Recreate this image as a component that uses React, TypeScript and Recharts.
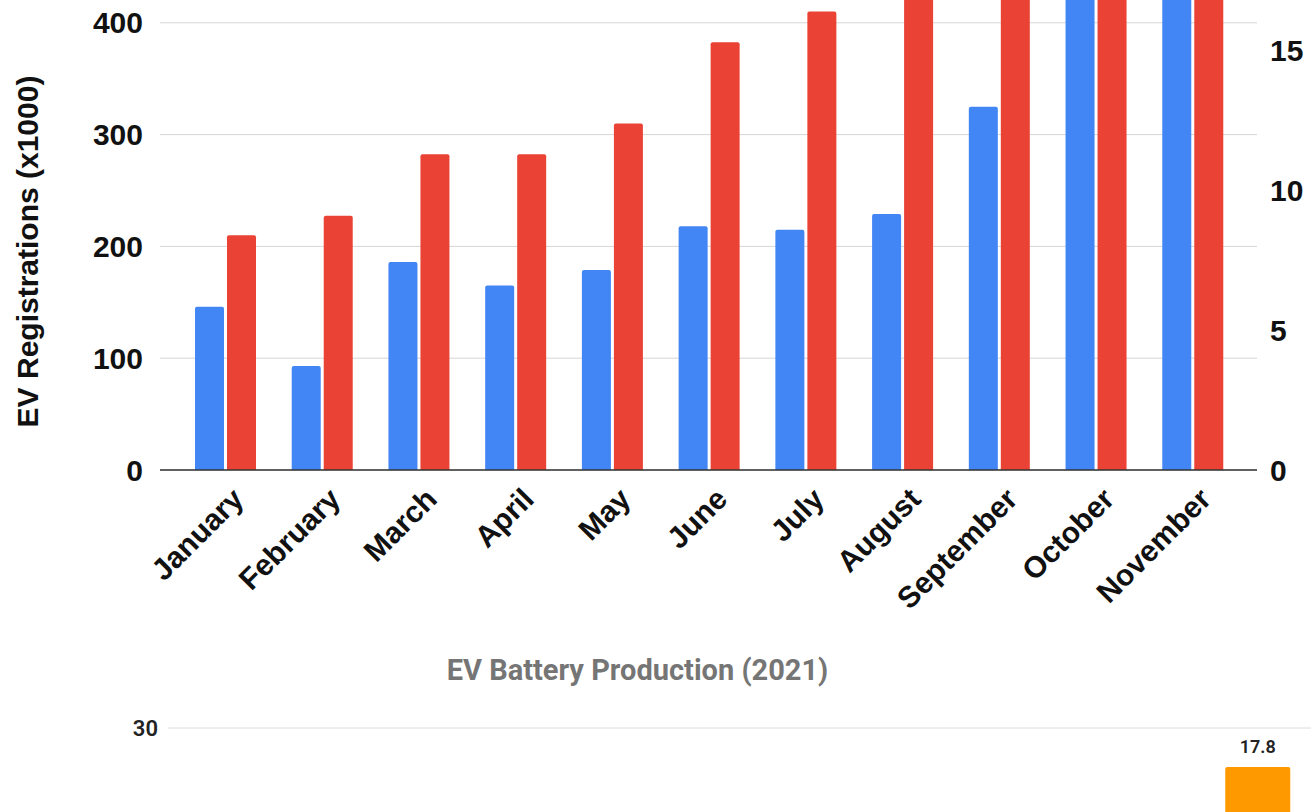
import { Bar, BarChart, CartesianGrid, LabelList, XAxis, YAxis } from "recharts";

const months = [
  "January",
  "February",
  "March",
  "April",
  "May",
  "June",
  "July",
  "August",
  "September",
  "October",
  "November",
];
// left axis, thousands of registrations (Oct/Nov run past the top of the crop)
const registrations = [146, 93, 186, 165, 179, 218, 215, 229, 325, 440, 470];
// right axis series (Aug-Nov run past the top of the crop)
const rightSeries = [8.4, 9.1, 11.3, 11.3, 12.4, 15.3, 16.4, 17.5, 18.4, 19.1, 19.6];
const leftTicks = [0, 100, 200, 300, 400];
const rightTicks = [0, 5, 10, 15];

const productionMonths = [
  "January",
  "February",
  "March",
  "April",
  "May",
  "June",
  "July",
  "August",
  "September",
  "October",
  "November",
  "December",
];
const production = [null, null, null, null, null, null, null, null, null, null, null, 17.8];
// only the top tick of this chart is inside the crop
const productionTicks = [30];

const registrationData = months.map((m, i) => ({
  month: m,
  registrations: registrations[i],
  right: rightSeries[i],
}));
const productionData = productionMonths.map((m, i) => ({
  month: m,
  production: production[i],
}));

const ARIAL = "Arial, 'Liberation Sans', sans-serif";
const ROBOTO = "Roboto, 'Noto Sans', sans-serif";

function MonthTick(props: any) {
  const { x, y, payload } = props;
  return (
    <g transform={`translate(${x + 20},${y + 31})`}>
      <text
        textAnchor="end"
        transform="rotate(-45)"
        fontSize={30}
        fontWeight="bold"
        fontFamily={ARIAL}
        fill="#111"
      >
        {payload.value}
      </text>
    </g>
  );
}

function AxisTitle(props: any) {
  const vb = props.viewBox;
  const cx = vb.x + 38;
  const cy = vb.y + vb.height / 2 + 61;
  return (
    <text
      x={cx}
      y={cy}
      transform={`rotate(-90, ${cx}, ${cy})`}
      textAnchor="middle"
      fontSize={30}
      fontWeight="bold"
      fontFamily={ARIAL}
      fill="#111"
    >
      EV Registrations (x1000)
    </text>
  );
}

function ProductionTick(props: any) {
  const { x, y, payload } = props;
  return (
    <text
      x={x}
      y={y}
      dy={8}
      textAnchor="end"
      fill="#222"
      fontSize={22}
      fontWeight={600}
      fontFamily={ROBOTO}
    >
      {payload.value}
    </text>
  );
}

export default function App() {
  const tickStyle = { fill: "#111", fontSize: 30, fontWeight: "bold", fontFamily: ARIAL };
  return (
    <div
      style={{
        position: "absolute",
        top: 0,
        left: 0,
        width: 1311,
        height: 812,
        overflow: "hidden",
        background: "#fff",
      }}
    >
      <div style={{ position: "absolute", top: -140, left: 0 }}>
        <BarChart
          width={1311}
          height={760}
          data={registrationData}
          margin={{ top: 51, right: 0, bottom: 0, left: 0 }}
          barSize={29}
          barGap={3}
        >
          <CartesianGrid vertical={false} stroke="#d6d6d6" yAxisId="left" />
          <XAxis
            dataKey="month"
            interval={0}
            height={150}
            padding={{ left: 17, right: 16 }}
            tickLine={false}
            tickSize={0}
            tickMargin={0}
            axisLine={{ stroke: "#333", strokeWidth: 1.5 }}
            tick={<MonthTick />}
          />
          <YAxis
            yAxisId="left"
            width={160}
            domain={[0, 500]}
            ticks={leftTicks}
            interval={0}
            axisLine={false}
            tickLine={false}
            tickSize={0}
            tickMargin={17}
            tick={tickStyle}
            label={{ content: <AxisTitle /> }}
          />
          <YAxis
            yAxisId="right"
            orientation="right"
            width={54}
            domain={[0, 20]}
            ticks={rightTicks}
            interval={0}
            axisLine={false}
            tickLine={false}
            tickSize={0}
            tickMargin={13}
            tick={tickStyle}
          />
          <Bar
            yAxisId="left"
            dataKey="registrations"
            fill="#4285f4"
            radius={[2, 2, 0, 0]}
            isAnimationActive={false}
          />
          <Bar
            yAxisId="right"
            dataKey="right"
            fill="#ea4335"
            radius={[2, 2, 0, 0]}
            isAnimationActive={false}
          />
        </BarChart>
      </div>

      <div
        style={{
          position: "absolute",
          top: 652,
          left: 0,
          width: 1275,
          height: 36,
          lineHeight: "36px",
          textAlign: "center",
          fontFamily: ROBOTO,
          fontWeight: "bold",
          fontSize: 29,
          color: "#757575",
        }}
      >
        EV Battery Production (2021)
      </div>

      <div style={{ position: "absolute", top: 700, left: 0 }}>
        <BarChart
          width={1330}
          height={383}
          data={productionData}
          margin={{ top: 28, right: 0, bottom: 0, left: 0 }}
          barSize={65}
        >
          <CartesianGrid vertical={false} stroke="#dcdcdc" yAxisId="left" />
          <XAxis dataKey="month" hide padding={{ left: 0, right: 25 }} />
          <YAxis
            yAxisId="left"
            type="number"
            dataKey="production"
            width={168}
            domain={[0, 30]}
            allowDataOverflow
            ticks={productionTicks}
            interval={0}
            axisLine={false}
            tickLine={false}
            tickSize={0}
            tickMargin={10}
            tick={<ProductionTick />}
          />
          <YAxis yAxisId="right" hide domain={[0, 20]} />
          <Bar
            yAxisId="right"
            dataKey="production"
            fill="#ff9900"
            radius={[2, 2, 0, 0]}
            isAnimationActive={false}
          >
            <LabelList
              dataKey="production"
              position="top"
              offset={14}
              fill="#222"
              fontSize={18}
              fontWeight={600}
              fontFamily={ROBOTO}
            />
          </Bar>
        </BarChart>
      </div>
    </div>
  );
}
